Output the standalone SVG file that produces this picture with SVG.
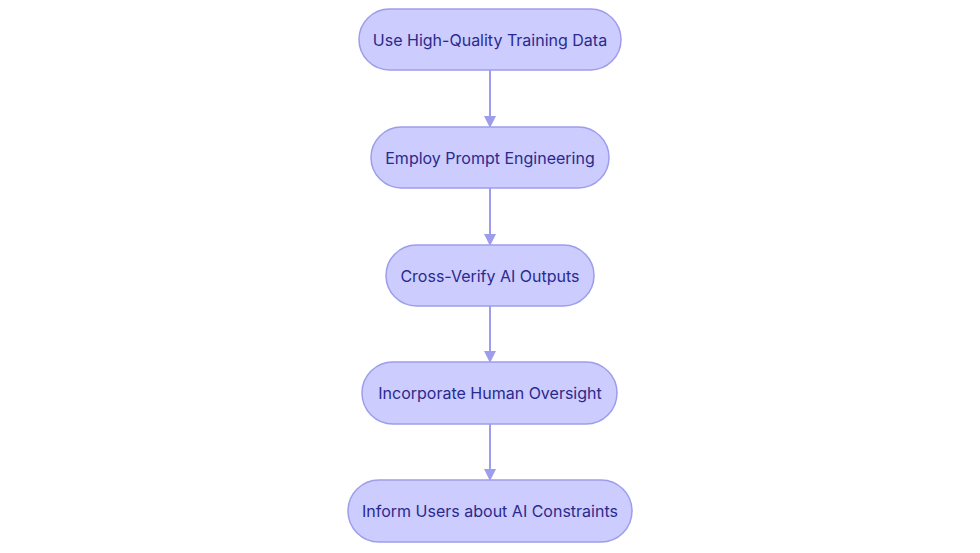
<svg xmlns="http://www.w3.org/2000/svg" width="980" height="553" viewBox="0 0 980 553">
<style>
.n rect{fill:#ccccff;stroke:#9d9dec;stroke-width:1.5}
.n text{font-family:Inter,"Noto Sans",sans-serif;font-size:16px;fill:#2a2a8c;text-anchor:middle;dominant-baseline:central}
.e line{stroke:#9d9dec;stroke-width:2;marker-end:url(#a)}
</style>
<defs><marker id="a" markerWidth="12" markerHeight="12" refX="10" refY="6" orient="auto" markerUnits="userSpaceOnUse"><path d="M0,0 L12,6 L0,12 Z" fill="#9d9dec"/></marker></defs>
<rect width="980" height="553" fill="#fff"/>
<g class="e">
<line x1="490" y1="70" x2="490" y2="126"/>
<line x1="490" y1="188" x2="490" y2="244"/>
<line x1="490" y1="306" x2="490" y2="361"/>
<line x1="490" y1="424" x2="490" y2="479"/>
</g>
<g class="n" id="n1"><rect x="359" y="9" width="262" height="61" rx="30.5"/><text x="490" y="39.5">Use High-Quality Training Data</text></g>
<g class="n" id="n2"><rect x="371" y="127" width="238" height="61" rx="30.5"/><text x="490" y="157.5">Employ Prompt Engineering</text></g>
<g class="n" id="n3"><rect x="386" y="245" width="208" height="61" rx="30.5"/><text x="490" y="275.5">Cross-Verify AI Outputs</text></g>
<g class="n" id="n4"><rect x="362" y="362" width="255" height="62" rx="31"/><text x="490" y="393">Incorporate Human Oversight</text></g>
<g class="n" id="n5"><rect x="348" y="480" width="284" height="62" rx="31"/><text x="490" y="511">Inform Users about AI Constraints</text></g>
</svg>
